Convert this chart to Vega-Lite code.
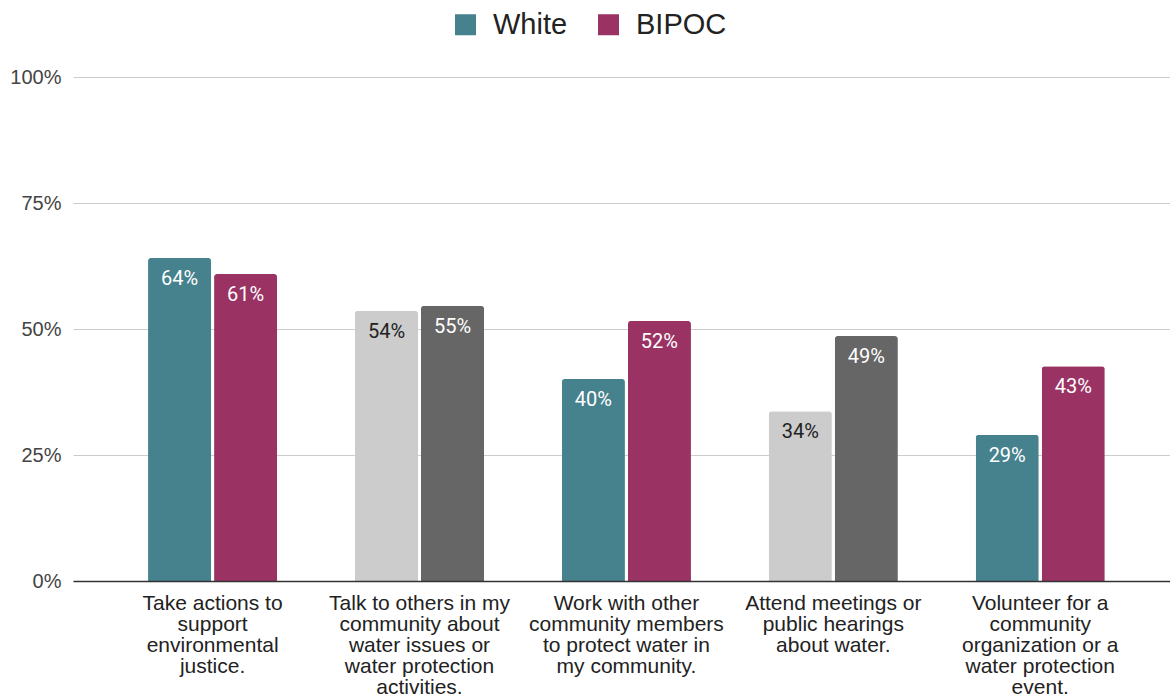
{
  "$schema": "https://vega.github.io/schema/vega-lite/v6.json",
  "autosize": "none",
  "width": 1097,
  "height": 504,
  "padding": {"left": 73, "top": 77, "right": 0, "bottom": 116},
  "background": "white",
  "config": {"view": {"stroke": null}},
  "data": {
    "values": [
      {"activity": "Take actions to|support|environmental|justice.", "group": "White", "value": 0.641},
      {"activity": "Take actions to|support|environmental|justice.", "group": "BIPOC", "value": 0.609},
      {"activity": "Talk to others in my|community about|water issues or|water protection|activities.", "group": "White", "value": 0.536},
      {"activity": "Talk to others in my|community about|water issues or|water protection|activities.", "group": "BIPOC", "value": 0.546},
      {"activity": "Work with other|community members|to protect water in|my community.", "group": "White", "value": 0.401},
      {"activity": "Work with other|community members|to protect water in|my community.", "group": "BIPOC", "value": 0.516},
      {"activity": "Attend meetings or|public hearings|about water.", "group": "White", "value": 0.337},
      {"activity": "Attend meetings or|public hearings|about water.", "group": "BIPOC", "value": 0.486},
      {"activity": "Volunteer for a|community|organization or a|water protection|event.", "group": "White", "value": 0.29},
      {"activity": "Volunteer for a|community|organization or a|water protection|event.", "group": "BIPOC", "value": 0.426}
    ]
  },
  "encoding": {
    "x": {
      "field": "activity",
      "type": "nominal",
      "sort": null,
      "scale": {"paddingInner": 0.376, "paddingOuter": 0.339, "align": 0.535},
      "axis": {
        "title": null,
        "labelAngle": 0,
        "labelExpr": "split(datum.value, '|')",
        "labelFont": "Liberation Sans",
        "labelFontSize": 21,
        "labelLineHeight": 21,
        "labelColor": "#222222",
        "labelLimit": 300,
        "labelPadding": 11,
        "ticks": false,
        "domainColor": "#333333",
        "domainWidth": 1.5,
        "grid": false,
        "zindex": 1
      }
    },
    "xOffset": {
      "field": "group",
      "type": "nominal",
      "sort": ["White", "BIPOC"],
      "scale": {"paddingInner": 0.045}
    },
    "y": {
      "field": "value",
      "type": "quantitative",
      "scale": {"domain": [0, 1]},
      "axis": {
        "title": null,
        "values": [0, 0.25, 0.5, 0.75, 1],
        "format": ".0%",
        "labelFont": "Liberation Sans",
        "labelFontSize": 20,
        "labelColor": "#444444",
        "labelPadding": 12,
        "ticks": false,
        "domain": false,
        "gridColor": "#cccccc",
        "gridWidth": 1
      }
    }
  },
  "layer": [
    {
      "mark": {"type": "bar", "cornerRadiusTopLeft": 3, "cornerRadiusTopRight": 3},
      "encoding": {
        "color": {
          "field": "group",
          "type": "nominal",
          "sort": ["White", "BIPOC"],
          "scale": {"domain": ["White", "BIPOC"], "range": ["#46818e", "#9a3363"]},
          "condition": [
            {"test": "(indexof(datum.activity, 'Talk') == 0 || indexof(datum.activity, 'Attend') == 0) && datum.group == 'White'", "value": "#cccccc"},
            {"test": "(indexof(datum.activity, 'Talk') == 0 || indexof(datum.activity, 'Attend') == 0) && datum.group == 'BIPOC'", "value": "#666666"}
          ],
          "legend": {
            "title": null,
            "orient": "none",
            "direction": "horizontal",
            "legendX": 378,
            "legendY": -67,
            "padding": 0,
            "symbolType": "square",
            "symbolSize": 441,
            "symbolStrokeWidth": 0,
            "symbolOpacity": 1,
            "labelFont": "Liberation Sans",
            "labelFontSize": 29,
            "labelColor": "#222222",
            "labelOffset": 13,
            "columnPadding": 26
          }
        }
      }
    },
    {
      "mark": {"type": "text", "baseline": "top", "dy": 11, "font": "Roboto", "fontSize": 20},
      "encoding": {
        "text": {"field": "value", "type": "quantitative", "format": ".0%"},
        "color": {
          "condition": {"test": "(indexof(datum.activity, 'Talk') == 0 || indexof(datum.activity, 'Attend') == 0) && datum.group == 'White'", "value": "#222222"},
          "value": "#ffffff"
        }
      }
    }
  ]
}
